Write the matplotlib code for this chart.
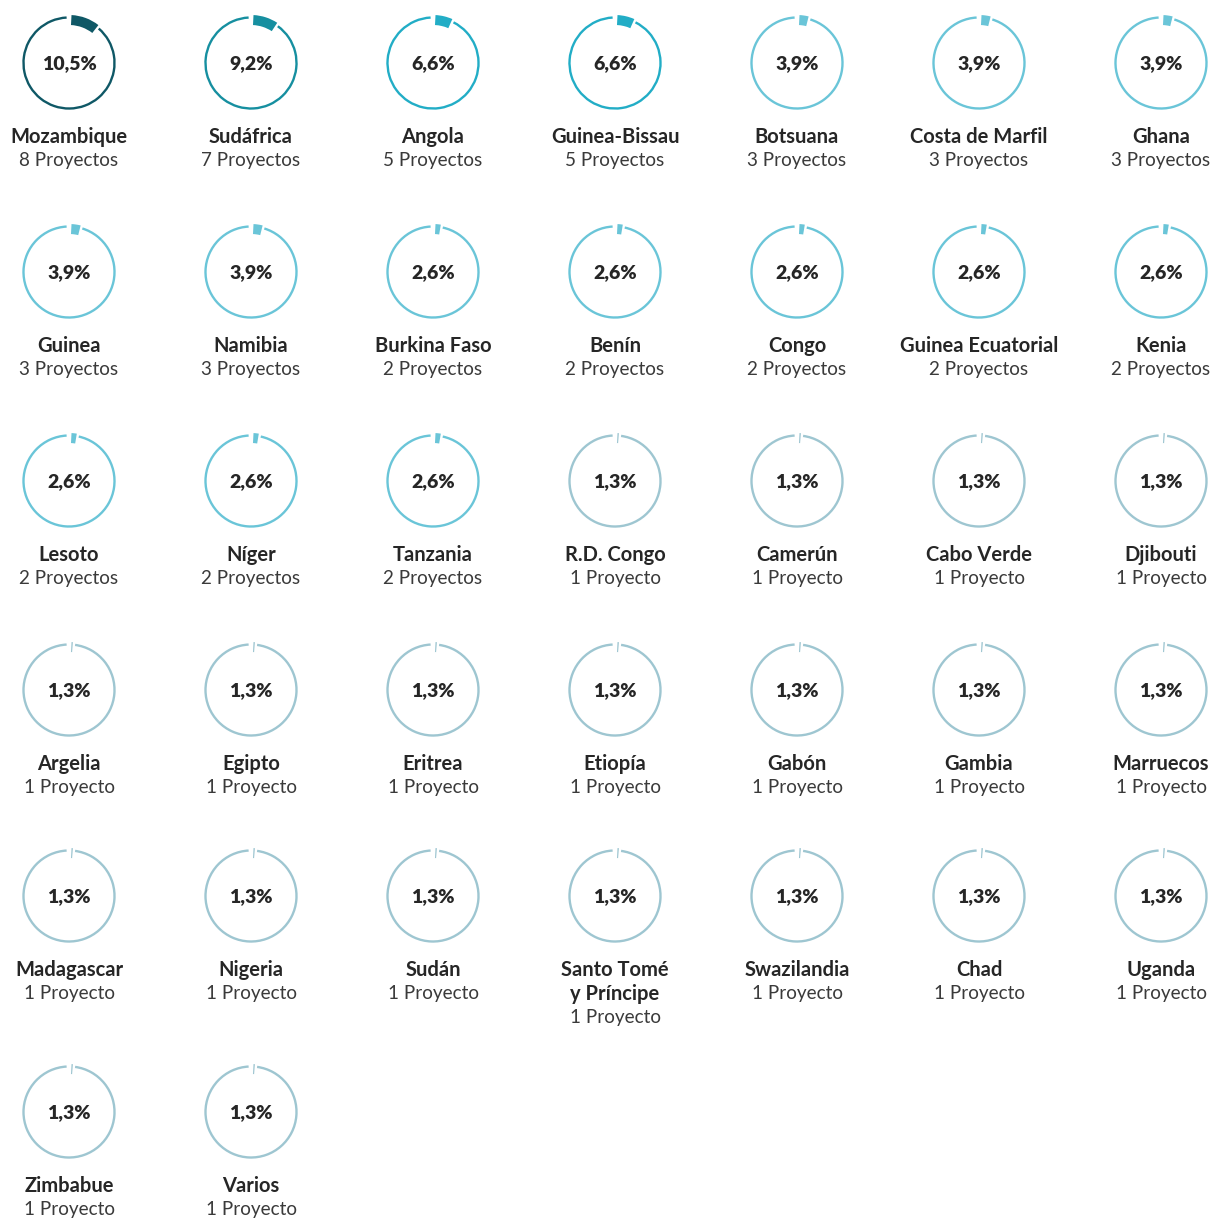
import matplotlib
matplotlib.use("Agg")
import matplotlib.pyplot as plt
from matplotlib.patches import Wedge, Arc

countries = ["Mozambique", "Sudáfrica", "Angola", "Guinea-Bissau", "Botsuana", "Costa de Marfil", "Ghana",
             "Guinea", "Namibia", "Burkina Faso", "Benín", "Congo", "Guinea Ecuatorial", "Kenia",
             "Lesoto", "Níger", "Tanzania", "R.D. Congo", "Camerún", "Cabo Verde", "Djibouti",
             "Argelia", "Egipto", "Eritrea", "Etiopía", "Gabón", "Gambia", "Marruecos",
             "Madagascar", "Nigeria", "Sudán", "Santo Tomé\ny Príncipe", "Swazilandia", "Chad", "Uganda",
             "Zimbabue", "Varios"]
projects = [8, 7, 5, 5, 3, 3, 3,
            3, 3, 2, 2, 2, 2, 2,
            2, 2, 2, 1, 1, 1, 1,
            1, 1, 1, 1, 1, 1, 1,
            1, 1, 1, 1, 1, 1, 1,
            1, 1]
percents = [10.5, 9.2, 6.6, 6.6, 3.9, 3.9, 3.9,
            3.9, 3.9, 2.6, 2.6, 2.6, 2.6, 2.6,
            2.6, 2.6, 2.6, 1.3, 1.3, 1.3, 1.3,
            1.3, 1.3, 1.3, 1.3, 1.3, 1.3, 1.3,
            1.3, 1.3, 1.3, 1.3, 1.3, 1.3, 1.3,
            1.3, 1.3]

def color_for(p):
    if p >= 10:
        return "#0f5866"
    if p >= 8:
        return "#168fa0"
    if p >= 5:
        return "#22adc6"
    if p >= 2:
        return "#6ac5d8"
    return "#9ec6d1"

W, H = 1212, 1222
fig = plt.figure(figsize=(W / 100, H / 100), dpi=100)
ax = fig.add_axes([0, 0, 1, 1])
ax.set_xlim(0, W)
ax.set_ylim(H, 0)
ax.set_aspect("equal")
ax.axis("off")

col_x = [69, 251, 433, 615, 797, 979, 1161]
row_y = [63, 272, 481, 690, 896, 1112]
R = 45.5
pad = 3.0
text_col = "#262626"

for i, (name, n, p) in enumerate(zip(countries, projects, percents)):
    cx = col_x[i % 7]
    cy = row_y[i // 7]
    c = color_for(p)
    sweep = p * 3.6
    start = -90 + sweep + pad
    end = -90 + 360 - pad
    ax.add_patch(Arc((cx, cy), 2 * R, 2 * R, theta1=start, theta2=end, color=c, lw=1.7))
    ax.add_patch(Wedge((cx, cy), 48, -90 + pad, -90 + sweep, width=10, facecolor=c, edgecolor="none"))
    ax.text(cx, cy + 1, f"{p:.1f}%".replace(".", ","), ha="center", va="center",
            fontsize=14, fontweight="heavy", family="Lato", color=text_col)
    lines = name.split("\n")
    ny = cy + 74
    for ln in lines:
        ax.text(cx, ny, ln, ha="center", va="center", fontsize=14.5, fontweight="bold",
                family="Lato", color=text_col)
        ny += 23.5
    sub = f"{n} Proyecto" + ("s" if n > 1 else "")
    ax.text(cx, ny, sub, ha="center", va="center", fontsize=13.6, family="Lato", color="#3a3a3a")

fig.savefig("out.png", dpi=100, facecolor="white")
